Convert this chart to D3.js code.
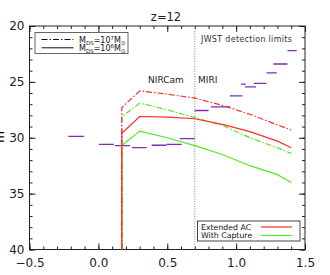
<!DOCTYPE html>
<html>
<head>
<meta charset="utf-8">
<script src="https://cdn.jsdelivr.net/npm/d3@7"></script>
<style>
  body { margin: 0; background: #fff; }
  svg { display: block; font-family: "DejaVu Sans", sans-serif; }
</style>
</head>
<body>
<svg id="chart" width="330" height="275"></svg>
<script>
// wavelength axis samples, first point is the drop-off (fainter than plot range)
var lam = [0.17, 0.17, 0.3, 0.5, 0.7, 0.9, 1.1, 1.3, 1.4];
var redDashDot   = [41, 27.3, 25.8, 26.1, 26.45, 27.1, 27.9, 28.85, 29.3];
var greenDashDot = [41, 28.1, 26.9, 27.5, 28.2, 28.9, 30.0, 30.9, 31.4];
var redSolid     = [41, 29.6, 28.1, 28.15, 28.3, 28.8, 29.45, 30.3, 30.9];
var greenSolid   = [41, 30.7, 29.4, 30.0, 30.7, 31.5, 32.5, 33.3, 34.0];

// JWST detection limits (band start, band end, magnitude)
var limStart = [-0.218, 0.004, 0.12, 0.244, 0.387, 0.496, 0.592, 0.70, 0.817, 0.955, 1.035, 1.064, 1.13, 1.22, 1.27, 1.373];
var limEnd   = [-0.105, 0.113, 0.23, 0.35, 0.496, 0.605, 0.70, 0.80, 0.955, 1.045, 1.07, 1.144, 1.22, 1.295, 1.373, 1.44];
var limMag   = [29.87, 30.6, 30.7, 30.88, 30.67, 30.6, 30.07, 27.56, 27.24, 26.25, 25.2, 25.44, 25.14, 24.2, 23.4, 22.2];

var xTicks = [-0.5, 0.0, 0.5, 1.0, 1.5];
var yTicks = [20, 25, 30, 35, 40];
var miriEdge = 0.7;

var red = "#ff2a2a", green = "#55e822", purple = "#7a2fb8";
var dashDot = "6,2,1.5,2";

var svg = d3.select("#chart");
var pl = 29.5, pr = 305, pt = 26, pb = 249.5;

var x = d3.scaleLinear().domain([-0.5, 1.5]).range([pl, pr]);
var y = d3.scaleLinear().domain([20, 40]).range([pt, pb]);

svg.append("clipPath").attr("id", "clip")
  .append("rect").attr("x", pl).attr("y", pt)
  .attr("width", pr - pl).attr("height", pb - pt);

// axes, ticks point inward
function minors(a, b, s) { return d3.range(a, b + s / 2, s); }
var xMinor = minors(-0.5, 1.5, 0.1);
var yMinor = minors(20, 40, 1);

svg.append("g").attr("transform", "translate(0," + pb + ")")
  .call(d3.axisBottom(x).tickValues(xTicks).tickSize(-6).tickPadding(9)
    .tickFormat(function(d) { return d3.format(".1f")(d).replace("-", "\u2212"); }));
svg.append("g").attr("transform", "translate(0," + pb + ")")
  .call(d3.axisBottom(x).tickValues(xMinor).tickSize(-3).tickFormat(""));
svg.append("g").attr("transform", "translate(0," + pt + ")")
  .call(d3.axisTop(x).tickValues(xTicks).tickSize(-6).tickFormat(""));
svg.append("g").attr("transform", "translate(0," + pt + ")")
  .call(d3.axisTop(x).tickValues(xMinor).tickSize(-3).tickFormat(""));

svg.append("g").attr("transform", "translate(" + pl + ",0)")
  .call(d3.axisLeft(y).tickValues(yTicks).tickSize(-6).tickPadding(5).tickFormat(d3.format("d")));
svg.append("g").attr("transform", "translate(" + pl + ",0)")
  .call(d3.axisLeft(y).tickValues(yMinor).tickSize(-3).tickFormat(""));
svg.append("g").attr("transform", "translate(" + pr + ",0)")
  .call(d3.axisRight(y).tickValues(yTicks).tickSize(-6).tickFormat(""));
svg.append("g").attr("transform", "translate(" + pr + ",0)")
  .call(d3.axisRight(y).tickValues(yMinor).tickSize(-3).tickFormat(""));

svg.selectAll(".domain").remove();
svg.selectAll(".tick line").attr("stroke", "#222");
svg.selectAll(".tick text").attr("font-size", 12).attr("fill", "#222")
  .attr("font-family", "DejaVu Sans, sans-serif");

svg.append("rect").attr("x", pl).attr("y", pt)
  .attr("width", pr - pl).attr("height", pb - pt)
  .attr("fill", "none").attr("stroke", "#222").attr("stroke-width", 1);

// axis titles, mostly outside the window
svg.append("text").attr("transform", "translate(4,137) rotate(-90)")
  .attr("text-anchor", "middle").attr("font-size", 12).text("m");
svg.append("text").attr("x", 167).attr("y", 285)
  .attr("text-anchor", "middle").attr("font-size", 12).text("log(\u03bb/\u03bcm)");

svg.append("text").attr("x", 166).attr("y", 21).attr("text-anchor", "middle")
  .attr("font-size", 11.5).attr("fill", "#222").text("z=12");

var plot = svg.append("g").attr("clip-path", "url(#clip)");

// MIRI boundary
plot.append("line").attr("x1", x(miriEdge)).attr("x2", x(miriEdge))
  .attr("y1", pt).attr("y2", pb)
  .attr("stroke", "#888").attr("stroke-width", 1).attr("stroke-dasharray", "1,1.5");

// detection limits
plot.selectAll(".lim").data(limMag).enter().append("line")
  .attr("x1", function(d, i) { return x(limStart[i]); })
  .attr("x2", function(d, i) { return x(limEnd[i]); })
  .attr("y1", function(d) { return y(d); })
  .attr("y2", function(d) { return y(d); })
  .attr("stroke", purple).attr("stroke-width", 1.3);

var line = d3.line()
  .x(function(d) { return x(d[0]); })
  .y(function(d) { return y(d[1]); });

function series(vals, color, dash) {
  plot.append("path").datum(d3.zip(lam, vals))
    .attr("d", line).attr("fill", "none")
    .attr("stroke", color).attr("stroke-width", 1.2)
    .attr("stroke-dasharray", dash);
}
series(greenSolid, green, null);
series(greenDashDot, green, dashDot);
series(redSolid, red, null);
series(redDashDot, red, dashDot);

// labels
svg.append("text").attr("x", 148).attr("y", 83).attr("font-size", 9).attr("fill", "#222").text("NIRCam");
svg.append("text").attr("x", 198).attr("y", 83).attr("font-size", 9).attr("fill", "#222").text("MIRI");
svg.append("text").attr("x", 201).attr("y", 42).attr("font-size", 8).attr("letter-spacing", 0.3)
  .attr("fill", "#333").text("JWST detection limits");

// mass legend
var lg = svg.append("g");
lg.append("rect").attr("x", 35).attr("y", 32.5).attr("width", 93).attr("height", 21)
  .attr("fill", "#fff").attr("stroke", "#666");
var massLabels = ["7", "6"];
var massDash = [dashDot, null];
massLabels.forEach(function(p, i) {
  var yy = 39.5 + i * 8.3;
  lg.append("line").attr("x1", 41.5).attr("x2", 73.5).attr("y1", yy).attr("y2", yy)
    .attr("stroke", "#111").attr("stroke-width", 1).attr("stroke-dasharray", massDash[i]);
  var t = lg.append("text").attr("x", 79).attr("y", yy + 3).attr("font-size", 8).attr("fill", "#111");
  t.append("tspan").text("M");
  t.append("tspan").attr("font-size", 5.5).attr("dy", 2).text("DS");
  t.append("tspan").attr("dy", -2).text("=10");
  t.append("tspan").attr("font-size", 5.5).attr("dy", -3).text(p);
  t.append("tspan").attr("dy", 3).text("M");
  t.append("tspan").attr("font-size", 5.5).attr("dy", 2).text("\u2299");
});

// model legend
var lg2 = svg.append("g");
lg2.append("rect").attr("x", 197.5).attr("y", 221).attr("width", 102.5).attr("height", 20)
  .attr("fill", "#fff").attr("stroke", "#444");
var modelNames = ["Extended AC", "With Capture"];
var modelColors = [red, green];
modelNames.forEach(function(n, i) {
  var yy = 227 + i * 8.5;
  lg2.append("text").attr("x", 201).attr("y", yy + 2.8).attr("font-size", 7.8)
    .attr("fill", "#111").text(n);
  lg2.append("line").attr("x1", 261).attr("x2", 292).attr("y1", yy).attr("y2", yy)
    .attr("stroke", modelColors[i]).attr("stroke-width", 1.2);
});
</script>
</body>
</html>
